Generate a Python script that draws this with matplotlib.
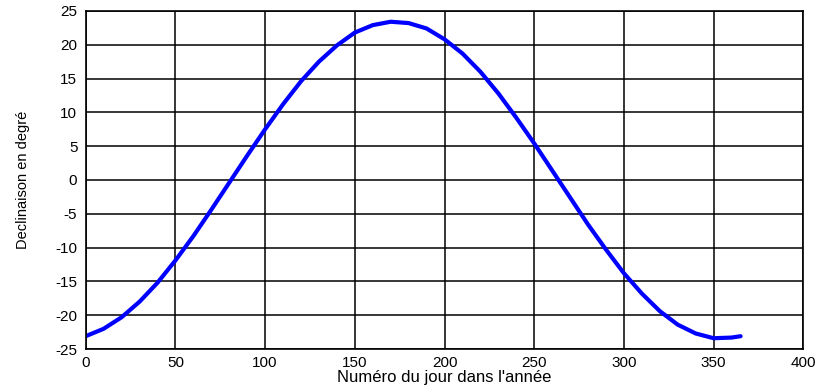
import numpy as np
import matplotlib
matplotlib.use("Agg")
import matplotlib.pyplot as plt

# jour de l'annee et declinaison
jours = [0, 10, 20, 30, 40, 50, 60, 70, 80, 90, 100, 110, 120, 130, 140, 150,
         160, 170, 180, 190, 200, 210, 220, 230, 240, 250, 260, 270, 280, 290,
         300, 310, 320, 330, 340, 350, 360, 365]
declinaison = [-23.1, -22.0, -20.3, -18.0, -15.2, -11.9, -8.3, -4.4, -0.4, 3.6,
               7.5, 11.2, 14.6, 17.5, 19.9, 21.8, 22.9, 23.4, 23.2, 22.4, 20.8,
               18.7, 16.0, 12.8, 9.2, 5.4, 1.4, -2.6, -6.6, -10.3, -13.8, -16.8,
               -19.4, -21.4, -22.7, -23.4, -23.3, -23.1]

x_ticks = [0, 50, 100, 150, 200, 250, 300, 350, 400]
y_ticks = [-25, -20, -15, -10, -5, 0, 5, 10, 15, 20, 25]

plt.rcParams['font.family'] = ['Liberation Sans', 'DejaVu Sans']
plt.rcParams['axes.unicode_minus'] = False

fig = plt.figure(figsize=(8.24, 3.90), dpi=100)
ax = fig.add_axes([0.104, 0.105, 0.871, 0.867])

ax.plot(jours, declinaison, color='#0000ff', linewidth=3.0,
        solid_capstyle='round', solid_joinstyle='round')

ax.set_xlim(0, 400)
ax.set_ylim(-25, 25)
ax.set_xticks(x_ticks)
ax.set_yticks(y_ticks)
ax.grid(True, color='black', linewidth=1.1)
ax.set_axisbelow(True)
ax.tick_params(length=0, labelsize=11)
ax.tick_params(axis='x', pad=5)
ax.tick_params(axis='y', pad=6)
for s in ax.spines.values():
    s.set_linewidth(1.2)

ax.set_xlabel("Numéro du jour dans l'année", fontsize=12, labelpad=0)
ax.set_ylabel("Declinaison en degré", fontsize=10.5, labelpad=18)

fig.savefig("out.png", dpi=100)
